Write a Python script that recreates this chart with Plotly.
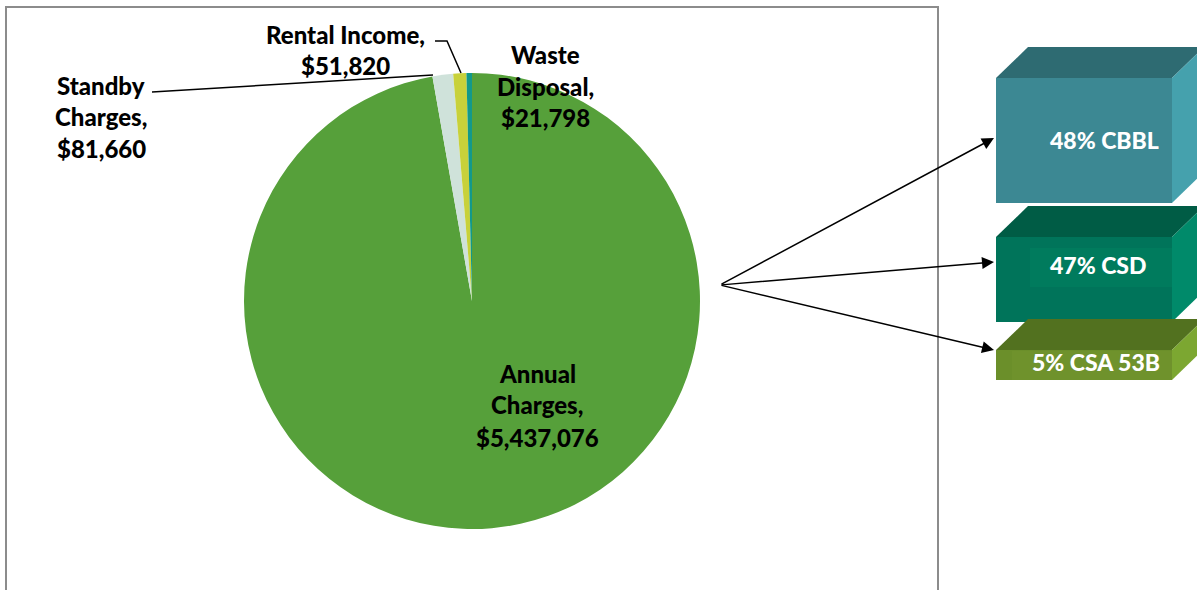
import plotly.graph_objects as go

W, H = 1197, 590

categories = ["Annual Charges", "Standby Charges", "Rental Income", "Waste Disposal"]
values = [5437076, 81660, 51820, 21798]
slice_colors = ["#56A03A", "#CFE2DA", "#C8D13A", "#12998A"]

label_lines = {
    "Annual Charges": ["Annual", "Charges,", "$5,437,076"],
    "Standby Charges": ["Standby", "Charges,", "$81,660"],
    "Rental Income": ["Rental Income,", "$51,820"],
    "Waste Disposal": ["Waste", "Disposal,", "$21,798"],
}

split_labels = ["48% CBBL", "47% CSD", "5% CSA 53B"]
split_pct = [48, 47, 5]

def px(x):
    return x / W

def py(y):
    return 1 - y / H

FONT = "Lato"

cx, cy, r = 472, 301, 228
fig = go.Figure(go.Pie(
    labels=categories, values=values, sort=False, direction="clockwise",
    rotation=0, marker=dict(colors=slice_colors, line=dict(width=0)),
    textinfo="none", hoverinfo="label+value", showlegend=False,
    domain=dict(x=[px(cx - r), px(cx + r)], y=[py(cy + r), py(cy - r)]),
))

shapes = []
annotations = []

# border box
shapes.append(dict(type="rect", xref="paper", yref="paper",
                   x0=px(6), x1=px(938), y0=py(7), y1=py(600),
                   line=dict(color="#8C8C8C", width=2)))

# label positions (center x, first line y, line gap)
label_pos = {
    "Annual Charges": (537, 373, 32),
    "Standby Charges": (101, 85, 31.5),
    "Rental Income": (345, 35, 30),
    "Waste Disposal": (545, 55, 31.5),
}
for cat in categories:
    x0, y0, gap = label_pos[cat]
    for i, t in enumerate(label_lines[cat]):
        annotations.append(dict(x=px(x0), y=py(y0 + i * gap), xref="paper", yref="paper",
                                text=t, showarrow=False,
                                font=dict(family=FONT, size=24, color="black", weight=900),
                                xanchor="center", yanchor="middle"))

# leader lines
shapes.append(dict(type="path", xref="paper", yref="paper",
                   path="M %f %f L %f %f" % (px(152), py(92), px(433), py(75)),
                   line=dict(color="black", width=1.5)))
shapes.append(dict(type="path", xref="paper", yref="paper",
                   path="M %f %f L %f %f L %f %f" % (px(435), py(41), px(447), py(41), px(461), py(73)),
                   line=dict(color="black", width=1.5)))

# 3D boxes
boxes = [
    # front y0, y1, colors (front, top, side)
    (78, 203, "#3C8893", "#2E6B72", "#45A1AD"),
    (237, 322, "#00745A", "#005C45", "#008A6A"),
    (350, 380, "#6B8F2A", "#52711F", "#7CA731"),
]
fx0, fx1, dx, dy = 996, 1172, 32, 31

def poly(pts):
    return "M " + " L ".join("%f %f" % (px(a), py(b)) for a, b in pts) + " Z"

for (y0, y1, cf, ct, cs) in boxes:
    shapes.append(dict(type="path", xref="paper", yref="paper", layer="above",
                       path=poly([(fx0, y0), (fx0 + dx, y0 - dy), (fx1 + dx, y0 - dy), (fx1, y0)]),
                       fillcolor=ct, line=dict(width=0)))
    shapes.append(dict(type="path", xref="paper", yref="paper", layer="above",
                       path=poly([(fx1, y0), (fx1 + dx, y0 - dy), (fx1 + dx, y1 - dy), (fx1, y1)]),
                       fillcolor=cs, line=dict(width=0)))
    shapes.append(dict(type="rect", xref="paper", yref="paper", layer="above",
                       x0=px(fx0), x1=px(fx1), y0=py(y1), y1=py(y0),
                       fillcolor=cf, line=dict(width=0)))

# subtle inner panels
shapes.append(dict(type="rect", xref="paper", yref="paper", layer="above",
                   x0=px(1030), x1=px(1172), y0=py(287), y1=py(248),
                   fillcolor="#007B5D", line=dict(width=0)))
shapes.append(dict(type="rect", xref="paper", yref="paper", layer="above",
                   x0=px(1012), x1=px(1172), y0=py(380), y1=py(351),
                   fillcolor="#6F922C", line=dict(width=0)))

text_pos = [(1104, 140), (1098, 265), (1096, 362)]
for lab, (tx, ty) in zip(split_labels, text_pos):
    annotations.append(dict(x=px(tx), y=py(ty), xref="paper", yref="paper",
                            text=lab, showarrow=False,
                            font=dict(family=FONT, size=23, color="white", weight=900),
                            xanchor="center", yanchor="middle"))

# arrows
src = (720, 285)
heads = [(994, 138), (994, 262), (994, 350)]
for hx, hy in heads:
    annotations.append(dict(x=px(hx), y=py(hy), xref="paper", yref="paper",
                            ax=src[0] - hx, ay=src[1] - hy, text="", showarrow=True,
                            arrowhead=2, arrowsize=1.6, arrowwidth=1.5, arrowcolor="black"))

fig.update_layout(width=W, height=H, margin=dict(l=0, r=0, t=0, b=0),
                  paper_bgcolor="white", plot_bgcolor="white",
                  shapes=shapes, annotations=annotations)
fig.write_html("out.html")
